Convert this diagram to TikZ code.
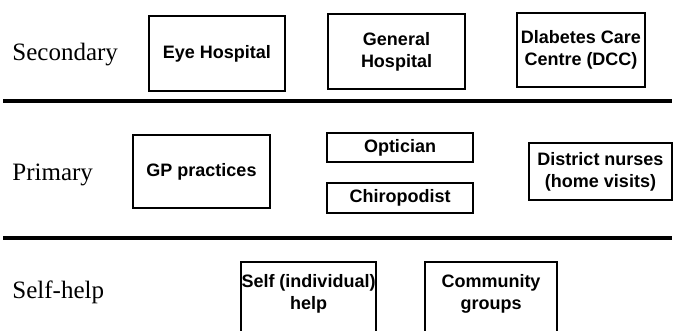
\documentclass[tikz,border=0pt]{standalone}
\usepackage{fontspec}
\setmainfont{Liberation Serif}
\newfontfamily\boxfont{Liberation Sans}
\begin{document}
\begin{tikzpicture}[x=0.5pt,y=-0.5pt,
  box/.style={draw, line width=0.9pt, inner sep=0pt, align=center,
    font=\boxfont\bfseries\fontsize{9}{11}\selectfont},
  boxtext/.style={inner sep=0pt, align=center,
    font=\boxfont\bfseries\fontsize{9}{11}\selectfont},
  openbox/.style={line width=0.9pt},
  lvl/.style={anchor=west, inner sep=0pt, font=\fontsize{12.5}{15}\selectfont},
  sep/.style={line width=2.2pt}]
\clip (0,0) rectangle (674,331);
\fill[white] (0,0) rectangle (674,331);

% level labels
\node[lvl] (secondary) at (12,55) {Secondary};
\node[lvl] (primary) at (12,175) {Primary};
\node[lvl] (selfhelp) at (12,292) {Self-help};

% separators
\coordinate (s1l) at (3,101);
\coordinate (s1r) at (672,101);
\coordinate (s2l) at (3,238);
\coordinate (s2r) at (672,238);
\draw[sep] (s1l) -- (s1r);
\draw[sep] (s2l) -- (s2r);

% secondary
\node[box, minimum width=68pt, minimum height=37.5pt] (eye) at (217,53.5) {Eye Hospital};
\node[box, minimum width=68.5pt, minimum height=37.5pt] (gen) at (396.5,51.5) {General\\Hospital};
\node[box, minimum width=64pt, minimum height=37pt] (dcc) at (581,50) {Dlabetes Care\\Centre (DCC)};

% primary
\node[box, minimum width=68.5pt, minimum height=36.5pt] (gp) at (201.5,171.5) {GP practices};
\node[box, minimum width=73pt, minimum height=14.5pt] (opt) at (400,147.5) {Optician};
\node[box, minimum width=73pt, minimum height=15pt] (chiro) at (400,198) {Chiropodist};
\node[box, minimum width=71.5pt, minimum height=28.5pt] (dist) at (600.5,171.5) {District nurses\\(home visits)};

% self-help (boxes run off the bottom edge)
\draw[openbox] (241,345) -- (241,262) -- (376,262) -- (376,345);
\draw[openbox] (425,345) -- (425,262) -- (557,262) -- (557,345);
\node[boxtext] (self) at (308.5,294) {Self (individual)\\help};
\node[boxtext] (comm) at (491,294) {Community\\groups};
\end{tikzpicture}
\end{document}
